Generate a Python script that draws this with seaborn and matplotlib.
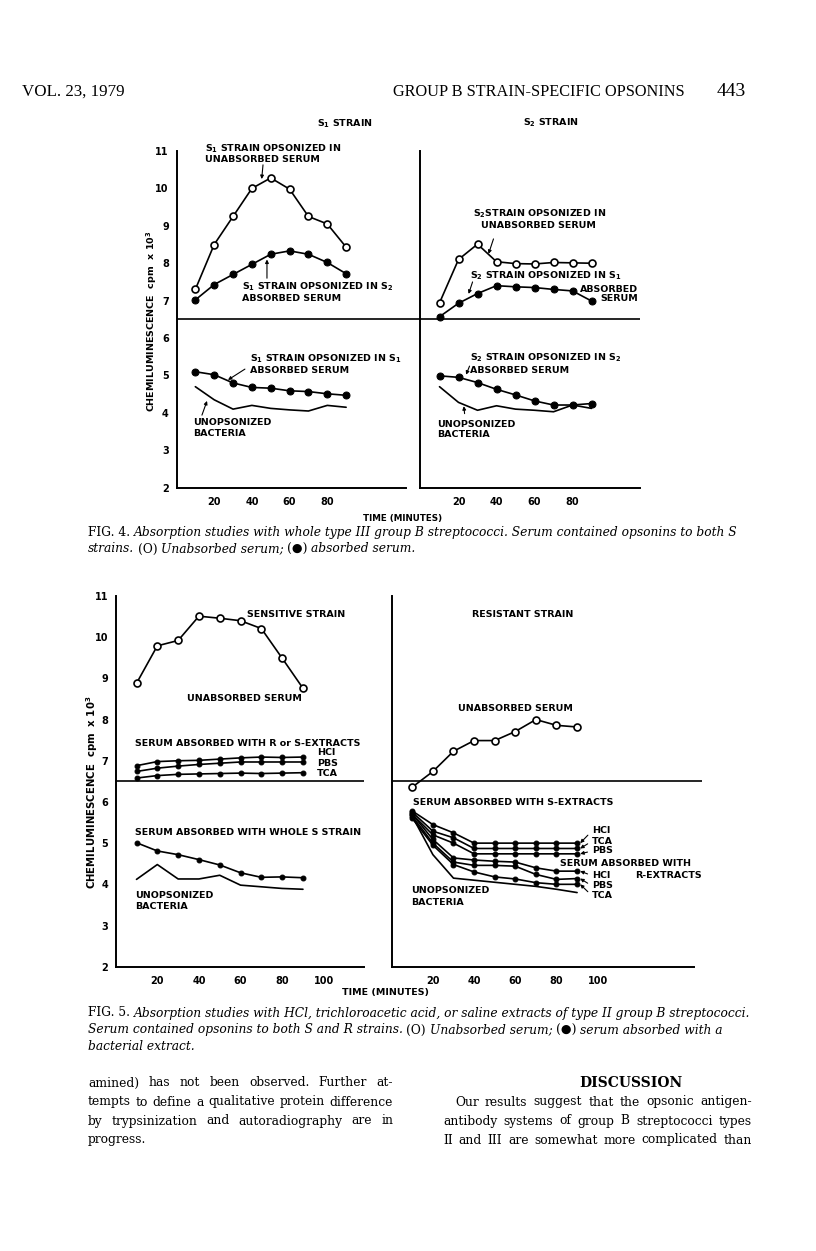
import numpy as np
import pandas as pd
import seaborn as sns
import matplotlib.pyplot as plt

sns.set_style("white")
plt.rcParams["font.family"] = ["DejaVu Sans"]
plt.rcParams["text.color"] = "black"
plt.rcParams["axes.labelcolor"] = "black"
plt.rcParams["xtick.color"] = "black"
plt.rcParams["ytick.color"] = "black"

W, H = 816, 1251

time = [10, 20, 30, 40, 50, 60, 70, 80, 90]

# Fig. 4 - S1 strain
s1_unabs = [7.3, 8.5, 9.25, 10.0, 10.28, 9.98, 9.25, 9.05, 8.43]
s1_abs_s2 = [7.02, 7.43, 7.7, 7.97, 8.24, 8.33, 8.24, 8.02, 7.72]
s1_abs_s1 = [5.1, 5.02, 4.8, 4.68, 4.66, 4.59, 4.57, 4.51, 4.47]
s1_unops = [4.7, 4.35, 4.1, 4.2, 4.12, 4.08, 4.05, 4.2, 4.15]

# Fig. 4 - S2 strain
s2_unabs = [6.94, 8.1, 8.51, 8.04, 7.99, 7.98, 8.02, 8.01, 8.0]
s2_abs_s1 = [6.57, 6.93, 7.19, 7.4, 7.37, 7.35, 7.3, 7.26, 6.99]
s2_abs_s2 = [4.99, 4.95, 4.81, 4.63, 4.48, 4.32, 4.21, 4.21, 4.25]
s2_unops = [4.7, 4.28, 4.07, 4.19, 4.1, 4.07, 4.03, 4.21, 4.12]

# Fig. 5 - sensitive strain
sens_unabs = [8.88, 9.79, 9.92, 10.51, 10.46, 10.4, 10.21, 9.49, 8.76]
sens_hcl = [6.88, 6.98, 7.0, 7.01, 7.04, 7.07, 7.09, 7.08, 7.09]
sens_pbs = [6.74, 6.82, 6.87, 6.91, 6.94, 6.97, 6.97, 6.97, 6.97]
sens_tca = [6.58, 6.64, 6.67, 6.68, 6.69, 6.7, 6.69, 6.7, 6.71]
sens_whole = [5.01, 4.81, 4.72, 4.6, 4.47, 4.28, 4.17, 4.18, 4.16]
sens_unops = [4.12, 4.48, 4.13, 4.13, 4.22, 3.98, 3.94, 3.9, 3.88]

# Fig. 5 - resistant strain
res_unabs = [6.36, 6.74, 7.23, 7.49, 7.49, 7.71, 8.0, 7.86, 7.82]
res_s_hcl = [5.78, 5.45, 5.25, 5.0, 5.0, 5.0, 5.0, 5.0, 5.0]
res_s_tca = [5.75, 5.29, 5.13, 4.87, 4.87, 4.87, 4.87, 4.87, 4.87]
res_s_pbs = [5.7, 5.2, 5.0, 4.74, 4.74, 4.74, 4.74, 4.74, 4.74]
res_r_hcl = [5.7, 5.09, 4.64, 4.59, 4.56, 4.54, 4.4, 4.32, 4.32]
res_r_pbs = [5.65, 5.0, 4.54, 4.46, 4.46, 4.44, 4.24, 4.12, 4.14]
res_r_tca = [5.6, 4.95, 4.48, 4.3, 4.18, 4.13, 4.04, 4.0, 4.0]
res_unops = [5.65, 4.72, 4.15, 4.1, 4.05, 4.0, 3.95, 3.88, 3.8]

fig = plt.figure(figsize=(W / 100, H / 100), dpi=100)
fig.patch.set_facecolor("white")

LW = 1.2
FS = 6.8


def panel(x0, x1, ytop, ybot, xmax, xend, yticklabels=True):
    ax = fig.add_axes([x0 / W, 1 - ybot / H, (x1 - x0) / W, (ybot - ytop) / H])
    ax.set_xlim(0, xmax)
    ax.set_ylim(2, 11)
    ax.patch.set_alpha(0)
    sns.despine(ax=ax)
    for s in ["left", "bottom"]:
        ax.spines[s].set_linewidth(1.4)
        ax.spines[s].set_color("black")
    ax.spines["bottom"].set_bounds(0, xend)
    ax.set_yticks(range(2, 12))
    ax.tick_params(axis="both", direction="out", length=4, width=1.1,
                   color="black", labelsize=7, pad=1.5)
    ax.tick_params(axis="x", length=2.5, pad=4)
    if yticklabels:
        ax.set_yticklabels([str(v) for v in range(2, 12)], fontweight="bold")
    else:
        ax.set_yticklabels([])
    ax.axhline(6.5, color="black", lw=LW)
    ax.set_xlabel("")
    ax.set_ylabel("")
    return ax


def draw(ax, y, kind, ms=5):
    df = pd.DataFrame({"time": time, "cpm": y})
    kw = dict(data=df, x="time", y="cpm", ax=ax, color="black", lw=LW)
    if kind == "open":
        sns.lineplot(**kw, marker="o", markersize=ms, markerfacecolor="white",
                     markeredgecolor="black", markeredgewidth=1.2)
    elif kind == "filled":
        sns.lineplot(**kw, marker="o", markersize=ms, markerfacecolor="black",
                     markeredgecolor="black")
    else:
        sns.lineplot(**kw)
    ax.set_xlabel("")
    ax.set_ylabel("")


def label(ax, x, y, s, **kw):
    ax.text(x, y, s, fontsize=FS, fontweight="bold", va="center", ha="left",
            linespacing=1.15, **kw)


def arrow(ax, start, end):
    ax.annotate("", xy=end, xytext=start,
                arrowprops=dict(arrowstyle="-|>", lw=0.8, color="black",
                                mutation_scale=5, shrinkA=0, shrinkB=0))


# ---------------- Fig. 4 ----------------
a1 = panel(176.5, 420, 151, 487.7, 129.2, 122)
a1.set_xticks([20, 40, 60, 80])
a1.set_xticklabels(["20", "40", "60", "80"], fontweight="bold")
draw(a1, s1_unabs, "open")
draw(a1, s1_abs_s2, "filled")
draw(a1, s1_abs_s1, "filled")
draw(a1, s1_unops, "line")
a1.text(89.4, 11.72, "S$_\\mathbf{1}$ STRAIN", fontsize=FS, fontweight="bold",
        ha="center", va="center")
label(a1, 15.1, 11.07, "S$_\\mathbf{1}$ STRAIN OPSONIZED IN")
label(a1, 15.1, 10.78, "UNABSORBED SERUM")
arrow(a1, (45.9, 10.63), (45.2, 10.25))
label(a1, 34.7, 7.38, "S$_\\mathbf{1}$ STRAIN OPSONIZED IN S$_\\mathbf{2}$")
label(a1, 34.7, 7.07, "ABSORBED SERUM")
arrow(a1, (48, 7.6), (48, 8.1))
label(a1, 39.0, 5.44, "S$_\\mathbf{1}$ STRAIN OPSONIZED IN S$_\\mathbf{1}$")
label(a1, 39.0, 5.12, "ABSORBED SERUM")
arrow(a1, (36.3, 5.17), (27.3, 4.88))
label(a1, 8.75, 3.75, "UNOPSONIZED")
label(a1, 8.75, 3.46, "BACTERIA")
arrow(a1, (13.5, 3.94), (16.2, 4.32))

a2 = panel(420.5, 640, 151, 487.7, 115.5, 115.5, yticklabels=False)
a2.set_xticks([20, 40, 60, 80])
a2.set_xticklabels(["20", "40", "60", "80"], fontweight="bold")
draw(a2, s2_unabs, "open")
draw(a2, s2_abs_s1, "filled")
draw(a2, s2_abs_s2, "filled")
draw(a2, s2_unops, "line")
a2.text(68.4, 11.75, "S$_\\mathbf{2}$ STRAIN", fontsize=FS, fontweight="bold",
        ha="center", va="center")
label(a2, 27.4, 9.32, "S$_\\mathbf{2}$STRAIN OPSONIZED IN")
label(a2, 31.6, 9.0, "UNABSORBED SERUM")
arrow(a2, (38.4, 8.65), (35.8, 8.25))
label(a2, 26.3, 7.66, "S$_\\mathbf{2}$ STRAIN OPSONIZED IN S$_\\mathbf{1}$")
arrow(a2, (27.4, 7.5), (25.3, 7.18))
a2.text(114.7, 7.18, "ABSORBED\nSERUM", fontsize=FS, fontweight="bold",
        ha="right", va="center", multialignment="right", linespacing=1.0)
label(a2, 26.3, 5.47, "S$_\\mathbf{2}$ STRAIN OPSONIZED IN S$_\\mathbf{2}$")
label(a2, 26.3, 5.14, "ABSORBED SERUM")
arrow(a2, (25.8, 5.25), (24.0, 5.02))
label(a2, 8.9, 3.7, "UNOPSONIZED")
label(a2, 8.9, 3.41, "BACTERIA")
arrow(a2, (23.2, 3.98), (22.8, 4.18))

fig.text(152 / W, 1 - 321 / H, "CHEMILUMINESCENCE  cpm  x 10$^\\mathbf{3}$",
         rotation=90, fontsize=FS, fontweight="bold", ha="center", va="center")
fig.text(403 / W, 1 - 518 / H, "TIME (MINUTES)", fontsize=6.3,
         fontweight="bold", ha="center", va="center")

# ---------------- Fig. 5 ----------------
b1 = panel(115.7, 363.5, 596, 966.7, 119.1, 119.1)
b1.set_xticks([20, 40, 60, 80, 100])
b1.set_xticklabels(["20", "40", "60", "80", "100"], fontweight="bold")
draw(b1, sens_unabs, "open")
draw(b1, sens_hcl, "filled", ms=3.5)
draw(b1, sens_pbs, "filled", ms=3.5)
draw(b1, sens_tca, "filled", ms=3.5)
draw(b1, sens_whole, "filled", ms=3.5)
draw(b1, sens_unops, "line")
label(b1, 63.1, 10.54, "SENSITIVE STRAIN")
label(b1, 34.3, 8.5, "UNABSORBED SERUM")
label(b1, 9.3, 7.43, "SERUM ABSORBED WITH R or S-EXTRACTS")
label(b1, 96.8, 7.19, "HCl")
label(b1, 96.8, 6.93, "PBS")
label(b1, 96.8, 6.68, "TCA")
label(b1, 9.3, 5.25, "SERUM ABSORBED WITH WHOLE S STRAIN")
label(b1, 9.3, 3.72, "UNOPSONIZED")
label(b1, 9.3, 3.45, "BACTERIA")

b2 = panel(391.7, 701.7, 596, 966.7, 150.5, 147, yticklabels=False)
b2.set_xticks([20, 40, 60, 80, 100])
b2.set_xticklabels(["20", "40", "60", "80", "100"], fontweight="bold")
draw(b2, res_unabs, "open")
for ys in [res_s_hcl, res_s_tca, res_s_pbs, res_r_hcl, res_r_pbs, res_r_tca]:
    draw(b2, ys, "filled", ms=3.5)
draw(b2, res_unops, "line")
label(b2, 39.1, 10.54, "RESISTANT STRAIN")
label(b2, 32.3, 8.26, "UNABSORBED SERUM")
label(b2, 10.4, 5.98, "SERUM ABSORBED WITH S-EXTRACTS")
for name, yl, yend in [("HCl", 5.3, res_s_hcl[-1]), ("TCA", 5.05, res_s_tca[-1]),
                       ("PBS", 4.81, res_s_pbs[-1]), ("HCl", 4.21, res_r_hcl[-1]),
                       ("PBS", 3.96, res_r_pbs[-1]), ("TCA", 3.72, res_r_tca[-1])]:
    b2.annotate(name, xy=(91.5, yend), xytext=(97.3, yl), fontsize=FS,
                fontweight="bold", va="center", ha="left",
                arrowprops=dict(arrowstyle="-|>", lw=0.8, color="black",
                                mutation_scale=5, shrinkA=1, shrinkB=0,
                                relpos=(0, 0.5)))
label(b2, 81.8, 4.5, "SERUM ABSORBED WITH")
label(b2, 118.2, 4.21, "R-EXTRACTS")
label(b2, 9.5, 3.84, "UNOPSONIZED")
label(b2, 9.5, 3.57, "BACTERIA")

fig.text(92 / W, 1 - 792 / H, "CHEMILUMINESCENCE  cpm  x 10$^\\mathbf{3}$",
         rotation=90, fontsize=7.3, fontweight="bold", ha="center", va="center")
fig.text(386 / W, 1 - 992 / H, "TIME (MINUTES)", fontsize=6.8,
         fontweight="bold", ha="center", va="center")

# ---------------- page text ----------------
fig.canvas.draw()
rend = fig.canvas.get_renderer()


def runs(x, y, parts, size=8.8):
    for s, style in parts:
        t = fig.text(x / W, 1 - y / H, s, fontsize=size, family="DejaVu Serif",
                     fontstyle=style, va="center", ha="left")
        x = t.get_window_extent(rend).x1 + 3.5


def word_widths(line, size):
    out = []
    for w in line.split():
        t = fig.text(0, 0, w, family="DejaVu Serif", fontsize=size)
        out.append(t.get_window_extent(rend).width)
        t.remove()
    return out


def justify(x0, x1, y, line, size):
    words = line.split()
    widths = word_widths(line, size)
    gap = (x1 - x0 - sum(widths)) / max(len(words) - 1, 1)
    x = x0
    for w, wd in zip(words, widths):
        fig.text(x / W, 1 - y / H, w, family="DejaVu Serif", fontsize=size,
                 va="center", ha="left")
        x += wd + gap


serif = dict(family="Liberation Serif", va="center")
fig.text(22 / W, 1 - 92 / H, "VOL. 23, 1979", fontsize=12.2, **serif)
fig.text(393 / W, 1 - 92 / H, "GROUP B STRAIN-SPECIFIC OPSONINS", fontsize=11.7, **serif)
fig.text(717 / W, 1 - 91 / H, "443", fontsize=14, **serif)

runs(88, 533, [("FIG. 4.", "normal"),
               ("Absorption studies with whole type III group B streptococci. "
                "Serum contained opsonins to both S", "italic")])
runs(88, 549, [("strains.", "italic"), ("(O)", "normal"),
               ("Unabsorbed serum;", "italic"), ("(\u25CF)", "normal"),
               ("absorbed serum.", "italic")])

runs(88, 1013, [("FIG. 5.", "normal"),
                ("Absorption studies with HCl, trichloroacetic acid, or saline "
                 "extracts of type II group B streptococci.", "italic")])
runs(88, 1030, [("Serum contained opsonins to both S and R strains.", "italic"),
                ("(O)", "normal"), ("Unabsorbed serum;", "italic"),
                ("(\u25CF)", "normal"), ("serum absorbed with a", "italic")])
runs(88, 1046, [("bacterial extract.", "italic")])

left_col = ["amined) has not been observed. Further at-",
            "tempts to define a qualitative protein difference",
            "by trypsinization and autoradiography are in"]
right_col = ["Our results suggest that the opsonic antigen-",
             "antibody systems of group B streptococci types",
             "II and III are somewhat more complicated than"]
col_l = (88, 393)
col_r = (443, 752)

# one body size for all lines: largest size that leaves ~4.5 px between words
base = 10.0
scales = []
for line, (x0, x1) in [(l, col_l) for l in left_col] + [(l, col_r) for l in right_col]:
    n = len(line.split())
    scales.append((x1 - x0 - 4.5 * (n - 1)) / sum(word_widths(line, base)))
size = base * min(min(scales), 1.12)

for i, line in enumerate(left_col):
    justify(col_l[0], col_l[1], 1083 + 19 * i, line, size)
fig.text(col_l[0] / W, 1 - 1140 / H, "progress.", family="DejaVu Serif",
         fontsize=size, va="center")

fig.text(631 / W, 1 - 1083 / H, "DISCUSSION", family="DejaVu Serif",
         fontsize=10, fontweight="bold", ha="center", va="center")
justify(col_r[0] + 12, col_r[1], 1102, right_col[0], size)
justify(col_r[0], col_r[1], 1121, right_col[1], size)
justify(col_r[0], col_r[1], 1140, right_col[2], size)

fig.savefig("out.png", dpi=100, facecolor="white")
